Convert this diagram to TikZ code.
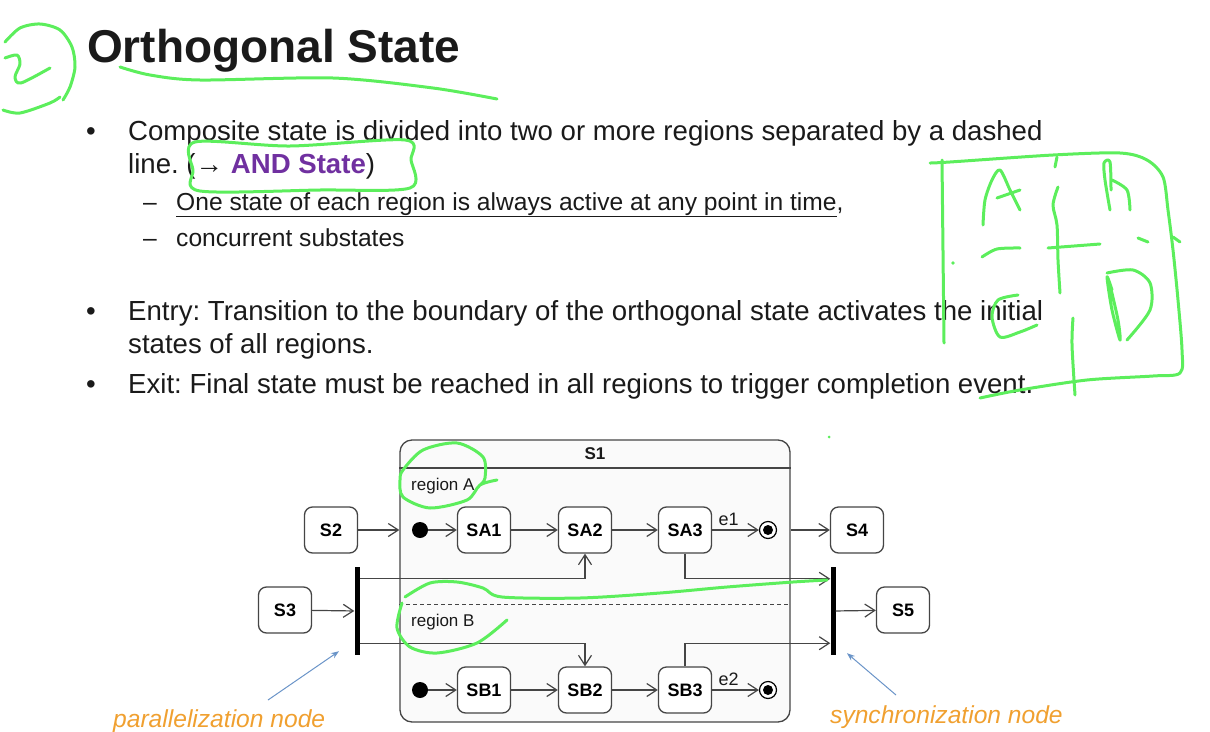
\documentclass[tikz,border=0pt]{standalone}
\usepackage{fontspec}
\setmainfont{Liberation Sans}
\usetikzlibrary{arrows.meta,calc}
\definecolor{hand}{HTML}{5CEE5C}
\definecolor{lg}{HTML}{454545}
\definecolor{txt}{HTML}{1A1A1A}
\definecolor{purp}{HTML}{7030A0}
\definecolor{orng}{HTML}{F0A030}
\definecolor{pblue}{HTML}{6A94C8}
\newcommand\mainsz{\fontsize{27.6}{33}\selectfont}
\newcommand\subsz{\fontsize{24.6}{29}\selectfont}
\newcommand\diagsz{\fontsize{18}{22}\selectfont\bfseries}
\frenchspacing
\begin{document}
\begin{tikzpicture}[x=1pt,y=-1pt,
  txtnode/.style={anchor=base west,inner sep=0,text=txt},
  stbox/.style={draw=lg,line width=1.3pt,rounded corners=8pt,fill=white,minimum width=53pt,minimum height=46pt,inner sep=0,font=\diagsz},
  arr/.style={draw=lg,line width=1.2pt,-{Straight Barb[length=10pt,width=13pt,line width=1.2pt]}},
  bar/.style={fill=black,minimum width=5pt,minimum height=88pt,inner sep=0},
  initst/.style={circle,fill=black,minimum size=16pt,inner sep=0},
  finst/.style={circle,draw=black,line width=1.2pt,fill=white,minimum size=17pt,inner sep=0,
     path picture={\fill[black] (path picture bounding box.center) circle (5pt);}},
  hnd/.style={draw=hand,line width=3pt,line cap=round,line join=round},
  point/.style={draw=pblue,line width=1pt,-{Stealth[length=8pt,width=6pt]}},
  lbl/.style={font=\fontsize{17}{20}\selectfont,inner sep=1pt,text=txt},
  ann/.style={anchor=base west,inner sep=0,text=orng,font=\fontsize{24.6}{29}\selectfont\itshape}]
\useasboundingbox (0,0) rectangle (1210,731);

% ---- title and text
\node[txtnode] (title) at (87,62) {\fontsize{46}{55}\selectfont\bfseries Orthogonal State};
\node[txtnode] (b1) at (86,140) {\mainsz •};
\node[txtnode] (t1) at (128,140) {\mainsz Composite state is divided into two or more regions separated by a dashed};
\node[txtnode] (t1b) at (128,173) {\mainsz line. (→ {\bfseries\color{purp}AND State})};
\node[txtnode] (d1) at (143,210) {\subsz –};
\node[txtnode] (s1) at (176,210) {\subsz \underline{One state of each region is always active at any point in time},};
\node[txtnode] (d2) at (143,246) {\subsz –};
\node[txtnode] (s2) at (176,246) {\subsz concurrent substates};
\node[txtnode] (b2) at (86,320) {\mainsz •};
\node[txtnode] (t2) at (128,320) {\mainsz Entry: Transition to the boundary of the orthogonal state activates the initial};
\node[txtnode] (t2b) at (128,353) {\mainsz states of all regions.};
\node[txtnode] (b3) at (86,393) {\mainsz •};
\node[txtnode] (t3) at (128,393) {\mainsz Exit: Final state must be reached in all regions to trigger completion event.};

% ---- composite state S1
\node[draw=lg,line width=1.3pt,rounded corners=12pt,fill=black!2,minimum width=390pt,minimum height=282pt,inner sep=0] (S1) at (595,581) {};
\node[font=\fontsize{17}{20}\selectfont\bfseries,text=txt] (S1t) at (595,454) {S1};
\draw[lg,line width=1.3pt] (S1.west |- 0,468) -- (S1.east |- 0,468);
\draw[lg,line width=1pt,dash pattern=on 4pt off 3pt] (S1.west |- 0,604) -- (S1.east |- 0,604);
\node[lbl,anchor=base west] (rA) at (410,490) {region A};
\node[lbl,anchor=base west] (rB) at (410,626) {region B};

% region A
\node[initst] (iA) at (420,530) {};
\node[stbox] (SA1) at (484,530) {SA1};
\node[stbox] (SA2) at (585,530) {SA2};
\node[stbox] (SA3) at (685,530) {SA3};
\node[finst] (fA) at (768,530) {};
% region B
\node[initst] (iB) at (420,690) {};
\node[stbox] (SB1) at (484,690) {SB1};
\node[stbox] (SB2) at (585,690) {SB2};
\node[stbox] (SB3) at (685,690) {SB3};
\node[finst] (fB) at (768,690) {};

% outside states
\node[stbox] (S2) at (331,530) {S2};
\node[stbox] (S4) at (857,530) {S4};
\node[stbox] (S3) at (285,610) {S3};
\node[stbox] (S5) at (903,610) {S5};
\node[bar] (fork) at (357,611) {};
\node[bar] (join) at (833,611) {};

% transitions
\draw[arr] (iA) -- (SA1);
\draw[arr] (SA1) -- (SA2);
\draw[arr] (SA2) -- (SA3);
\draw[arr] (SA3) -- node[lbl,above,pos=0.35,yshift=3pt,font=\fontsize{18}{21}\selectfont] {e1} (fA);
\draw[arr] (iB) -- (SB1);
\draw[arr] (SB1) -- (SB2);
\draw[arr] (SB2) -- (SB3);
\draw[arr] (SB3) -- node[lbl,above,pos=0.35,yshift=3pt,font=\fontsize{18}{21}\selectfont] {e2} (fB);
\draw[arr] (S2) -- (S2 -| S1.west);
\draw[arr] (S1.east |- S4) -- (S4);
\draw[arr] (S3) -- (fork);
\draw[arr] (join) -- (S5);
\draw[arr] ([yshift=-12pt]fork.north east) -| (SA2.south);
\draw[arr] ([yshift=12pt]fork.south east) -| (SB2.north);
\draw[arr] (SA3.south) |- ([yshift=-12pt]join.north west);
\draw[arr] (SB3.north) |- ([yshift=12pt]join.south west);

% annotations
\node[ann] (par) at (113,727) {parallelization node};
\node[ann] (syn) at (830,723) {synchronization node};
\coordinate (pA) at (268,700);
\coordinate (pB) at (896,695);
\draw[point] (pA) -- ([xshift=-18pt,yshift=4pt]fork.south);
\draw[point] (pB) -- ([xshift=14pt,yshift=2pt]join.south);

% ---- hand-drawn green marks
\draw[hnd] plot[smooth] coordinates {(5,42) (20,28) (40,24) (60,30) (72,47) (75,67) (70,87) (63,100)};
\draw[hnd] plot[smooth] coordinates {(60,97) (50,103) (20,113) (3,110)};
\draw[hnd] plot[smooth] coordinates {(5,58) (17,55) (20,64) (15,77) (21,83) (50,68)};
\draw[hnd] plot[smooth] coordinates {(120,67) (150,75) (200,80) (333,78) (433,88) (497,99)};
\draw[hnd] plot[smooth cycle] coordinates {(195,142) (290,146) (405,140) (411,160) (410,188) (320,190) (200,191) (193,170)};
% right sketch
\draw[hnd] plot[smooth] coordinates {(930,163) (950,162) (1053,155) (1120,153) (1147,160) (1163,177) (1168,210) (1173,250) (1178,300) (1182,350) (1180,373) (1153,376) (1087,380) (1020,390) (980,398)};
\draw[hnd] (942,160) -- (944,343);
\draw[hnd] plot[smooth] coordinates {(1057,157) (1055,167)};
\draw[hnd] plot[smooth] coordinates {(1058,187) (1053,205) (1057,225) (1058,260) (1060,293)};
\draw[hnd] plot[smooth] coordinates {(1073,318) (1072,345) (1075,395)};
\draw[hnd] plot[smooth] coordinates {(982,257) (997,249) (1020,248)};
\draw[hnd] (1048,248) -- (1100,244);
\draw[hnd] (1138,238) -- (1148,242);
\draw[hnd] (1173,237) -- (1180,242);
\draw[hnd] plot[smooth] coordinates {(983,225) (985,200) (992,180) (1000,170) (1010,190) (1020,210)};
\draw[hnd] (997,198) -- (1020,190);
\draw[hnd] plot[smooth] coordinates {(1110,210) (1105,180) (1104,163) (1110,162) (1111,190)};
\draw[hnd] plot[smooth] coordinates {(1112,180) (1127,190) (1130,210)};
\draw[hnd] plot[smooth] coordinates {(1018,295) (998,300) (992,317) (1000,337) (1020,332) (1037,325)};
\draw[hnd] plot[smooth] coordinates {(1112,290) (1107,277) (1112,310) (1120,340) (1118,320) (1110,285)};
\draw[hnd] plot[smooth] coordinates {(1107,273) (1133,270) (1150,283) (1150,310) (1127,340)};
\fill[hand] (953,263) circle (1.8pt);
% diagram marks
\draw[hnd] plot[smooth] coordinates {(480,485) (485,478) (483,457) (457,443) (423,450) (403,470) (400,480) (403,497) (430,508) (467,500) (480,485) (497,480)};
\draw[hnd] plot[smooth] coordinates {(405,597) (430,583) (457,582) (483,588) (502,597) (580,598) (660,593) (727,587) (793,582) (827,580)};
\draw[hnd] plot[smooth] coordinates {(402,603) (397,628) (410,647) (437,653) (477,643) (507,620)};
\fill[hand] (829,437) circle (1.5pt);
\end{tikzpicture}
\end{document}
